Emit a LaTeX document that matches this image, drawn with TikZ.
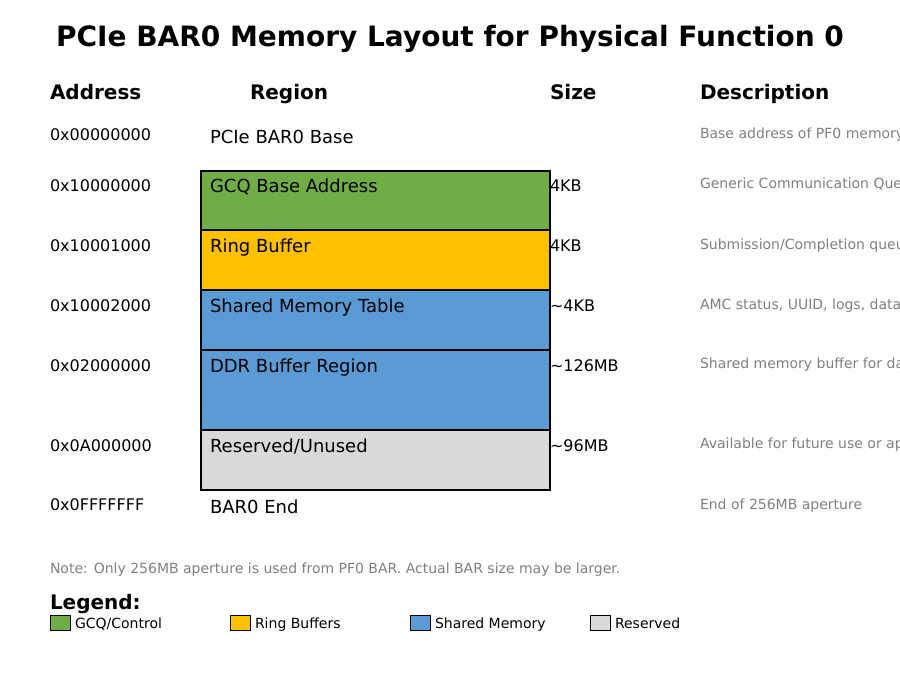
\documentclass[tikz,border=0pt]{standalone}
\usepackage{fontspec}
\setmainfont{DejaVu Sans}
\definecolor{gcqgreen}{HTML}{70AD47}
\definecolor{ringyellow}{HTML}{FFC000}
\definecolor{shmblue}{HTML}{5B9BD5}
\definecolor{resgray}{HTML}{D9D9D9}
\definecolor{desc}{HTML}{808080}
\tikzset{
  txt/.style={anchor=base west, inner sep=0pt, outer sep=0pt},
  title/.style={anchor=base, inner sep=0pt, font=\bfseries\fontsize{28}{32}\selectfont},
  hdr/.style={txt, font=\bfseries\fontsize{20}{24}\selectfont},
  addr/.style={txt, font=\fontsize{16}{19}\selectfont},
  reg/.style={txt, font=\fontsize{18}{21}\selectfont},
  sz/.style={txt, font=\fontsize{16}{19}\selectfont},
  dsc/.style={txt, text=desc, font=\fontsize{14}{17}\selectfont},
  memblk/.style={draw=black, line width=2pt},
  swatch/.style={draw=black, line width=0.8pt},
  lgd/.style={txt, font=\fontsize{14}{17}\selectfont}
}
\begin{document}
\begin{tikzpicture}[x=1pt, y=-1pt]
\useasboundingbox (0,0) rectangle (900,700);
\fill[white] (0,0) rectangle (900,700);
\node[title] (title) at (450,47) {PCIe BAR0 Memory Layout for Physical Function 0};
% headers
\node[hdr] (haddr) at (50,100) {Address};
\node[hdr] (hreg) at (250,100) {Region};
\node[hdr] (hsize) at (550,100) {Size};
\node[hdr] (hdesc) at (700,100) {Description};
% blocks
\fill[gcqgreen] (201,171) rectangle (550,230);
\fill[ringyellow] (201,230) rectangle (550,290);
\fill[shmblue] (201,290) rectangle (550,350);
\fill[shmblue] (201,350) rectangle (550,430);
\fill[resgray] (201,430) rectangle (550,490);
\draw[memblk] (201,171) rectangle (550,230);
\draw[memblk] (201,230) rectangle (550,290);
\draw[memblk] (201,290) rectangle (550,350);
\draw[memblk] (201,350) rectangle (550,430);
\draw[memblk] (201,430) rectangle (550,490);
% addresses
\node[addr] (a0) at (50,141) {0x00000000};
\node[addr] (a1) at (50,192) {0x10000000};
\node[addr] (a2) at (50,252) {0x10001000};
\node[addr] (a3) at (50,312) {0x10002000};
\node[addr] (a4) at (50,372) {0x02000000};
\node[addr] (a5) at (50,452) {0x0A000000};
\node[addr] (a6) at (50,511) {0x0FFFFFFF};
% regions
\node[reg] (r0) at (210,144) {PCIe BAR0 Base};
\node[reg] (r1) at (210,193) {GCQ Base Address};
\node[reg] (r2) at (210,253) {Ring Buffer};
\node[reg] (r3) at (210,313) {Shared Memory Table};
\node[reg] (r4) at (210,373) {DDR Buffer Region};
\node[reg] (r5) at (210,453) {Reserved/Unused};
\node[reg] (r6) at (210,513) {BAR0 End};
% sizes
\node[sz] (s1) at (550,192) {4KB};
\node[sz] (s2) at (550,252) {4KB};
\node[sz] (s3) at (550,312) {\char"007E 4KB};
\node[sz] (s4) at (550,372) {\char"007E 126MB};
\node[sz] (s5) at (550,452) {\char"007E 96MB};
% descriptions
\node[dsc] (d0) at (700,139) {Base address of PF0 memory};
\node[dsc] (d1) at (700,189) {Generic Communication Queue};
\node[dsc] (d2) at (700,250) {Submission/Completion queues};
\node[dsc] (d3) at (700,310) {AMC status, UUID, logs, data};
\node[dsc] (d4) at (700,369) {Shared memory buffer for data};
\node[dsc] (d5) at (700,449) {Available for future use or apps};
\node[dsc] (d6) at (700,509) {End of 256MB aperture};
% note
\node[dsc] (note) at (50,573) {Note: Only 256MB aperture is used from PF0 BAR. Actual BAR size may be larger.};
% legend
\node[hdr] (legend) at (50,609) {Legend:};
\filldraw[swatch, fill=gcqgreen] (50,615) rectangle (70,630);
\node[lgd] (l1) at (75,628) {GCQ/Control};
\filldraw[swatch, fill=ringyellow] (230,615) rectangle (250,630);
\node[lgd] (l2) at (255,628) {Ring Buffers};
\filldraw[swatch, fill=shmblue] (410,615) rectangle (430,630);
\node[lgd] (l3) at (435,628) {Shared Memory};
\filldraw[swatch, fill=resgray] (590,615) rectangle (610,630);
\node[lgd] (l4) at (615,628) {Reserved};
\end{tikzpicture}
\end{document}
